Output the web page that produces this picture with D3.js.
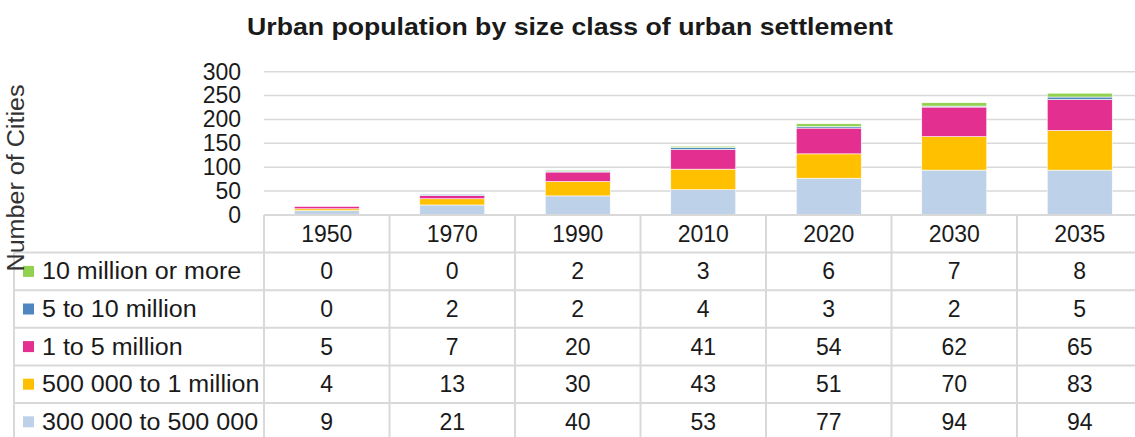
<!DOCTYPE html>
<html>
<head>
<meta charset="utf-8">
<script src="https://cdn.jsdelivr.net/npm/d3@7"></script>
<style>
  html, body { margin: 0; padding: 0; background: #fff; }
  svg { display: block; font-family: "Liberation Sans", Arial, sans-serif; }
</style>
</head>
<body>
<svg id="chart" width="1135" height="437"></svg>
<script>
const years = ["1950", "1970", "1990", "2010", "2020", "2030", "2035"];
const seriesNames = ["300 000 to 500 000", "500 000 to 1 million", "1 to 5 million", "5 to 10 million", "10 million or more"];
const seriesColors = ["#BDD1E9", "#FFC000", "#E32F8F", "#4F86C0", "#92D050"];
const s300to500k = [9, 21, 40, 53, 77, 94, 94];
const s500kto1m = [4, 13, 30, 43, 51, 70, 83];
const s1to5m = [5, 7, 20, 41, 54, 62, 65];
const s5to10m = [0, 2, 2, 4, 3, 2, 5];
const s10mPlus = [0, 0, 2, 3, 6, 7, 8];
const yTicks = [0, 50, 100, 150, 200, 250, 300];
const titleText = "Urban population by size class of urban settlement";
const yTitle = "Number of Cities";

const seriesValues = [s300to500k, s500kto1m, s1to5m, s5to10m, s10mPlus];
const rows = years.map((y, i) => {
  const r = { year: y };
  seriesNames.forEach((n, k) => r[n] = seriesValues[k][i]);
  return r;
});

const svg = d3.select("#chart");
const W = 1135;
const plotLeft = 264, colW = 125.5;
const x = d3.scaleBand().domain(years).range([plotLeft, plotLeft + colW * years.length]).paddingInner(0).paddingOuter(0);
const y = d3.scaleLinear().domain([0, 300]).range([215, 71.7]);
const gridColor = "#D9D9D9";
const textColor = "#1a1a1a";

// title
const t = svg.append("text").attr("x", 570).attr("y", 35).attr("text-anchor", "middle")
  .attr("font-size", 24).attr("font-weight", "bold").attr("fill", textColor).text(titleText);
t.attr("textLength", 646).attr("lengthAdjust", "spacingAndGlyphs");

// gridlines
svg.append("g").selectAll("line").data(yTicks.filter(d => d > 0)).join("line")
  .attr("x1", plotLeft).attr("x2", W).attr("y1", d => y(d)).attr("y2", d => y(d))
  .attr("stroke", gridColor).attr("stroke-width", 1.5);

// y axis labels
const yAxis = d3.axisLeft(y).tickValues(yTicks).tickSize(0).tickPadding(0);
const ya = svg.append("g").attr("transform", "translate(241,0)").call(yAxis);
ya.select(".domain").remove();
ya.selectAll("text").attr("font-size", 23).attr("fill", textColor).attr("font-family", "Liberation Sans, Arial, sans-serif");

// bars
const stack = d3.stack().keys(seriesNames);
const stacked = stack(rows);
const barW = 65;
svg.append("g").selectAll("g").data(stacked).join("g")
  .attr("fill", (d, i) => seriesColors[i])
  .selectAll("rect").data(d => d).join("rect")
  .attr("x", d => x(d.data.year) + x.bandwidth() / 2 - barW / 2)
  .attr("width", barW)
  .attr("y", d => y(d[1]))
  .attr("height", d => y(d[0]) - y(d[1]))
  .attr("stroke", "#fff").attr("stroke-width", 0.6);

// data table
const headerTop = 215, rowH = 37.6;
const tableLeft = 14;
const g = svg.append("g");
g.append("line").attr("x1", plotLeft).attr("x2", W).attr("y1", headerTop).attr("y2", headerTop)
  .attr("stroke", gridColor).attr("stroke-width", 2);
for (let r = 1; r <= seriesNames.length; r++) {
  const yy = headerTop + rowH * r;
  g.append("line").attr("x1", tableLeft).attr("x2", W).attr("y1", yy).attr("y2", yy)
    .attr("stroke", gridColor).attr("stroke-width", 2);
}
years.forEach(yr => {
  g.append("line").attr("x1", x(yr)).attr("x2", x(yr)).attr("y1", headerTop).attr("y2", 437)
    .attr("stroke", gridColor).attr("stroke-width", 2);
});
g.append("line").attr("x1", tableLeft).attr("x2", tableLeft).attr("y1", headerTop + rowH).attr("y2", 437)
  .attr("stroke", gridColor).attr("stroke-width", 2);

g.selectAll("text.hdr").data(years).join("text").attr("class", "hdr")
  .attr("x", d => x(d) + x.bandwidth() / 2).attr("y", headerTop + rowH / 2 + 8)
  .attr("text-anchor", "middle").attr("font-size", 23).attr("fill", textColor).text(d => d);

const tableOrder = seriesNames.map((n, i) => i).reverse();
tableOrder.forEach((k, r) => {
  const cy = headerTop + rowH * (r + 1) + rowH / 2;
  g.append("rect").attr("x", 23).attr("y", cy - 5.5).attr("width", 11).attr("height", 11).attr("fill", seriesColors[k]);
  const lt = g.append("text").attr("x", 42).attr("y", cy + 8).attr("font-size", 23).attr("fill", textColor).text(seriesNames[k]);
  const natural = lt.node().getComputedTextLength();
  lt.attr("textLength", natural * 1.09).attr("lengthAdjust", "spacingAndGlyphs");
  years.forEach((yr, i) => {
    g.append("text").attr("x", x(yr) + x.bandwidth() / 2).attr("y", cy + 8)
      .attr("text-anchor", "middle").attr("font-size", 23).attr("fill", textColor).text(seriesValues[k][i]);
  });
});

// y axis title
const yt = svg.append("text").attr("transform", "translate(24,178) rotate(-90)").attr("text-anchor", "middle")
  .attr("font-size", 23).attr("fill", "#333").text(yTitle);
yt.attr("textLength", 187).attr("lengthAdjust", "spacingAndGlyphs");
</script>
</body>
</html>
